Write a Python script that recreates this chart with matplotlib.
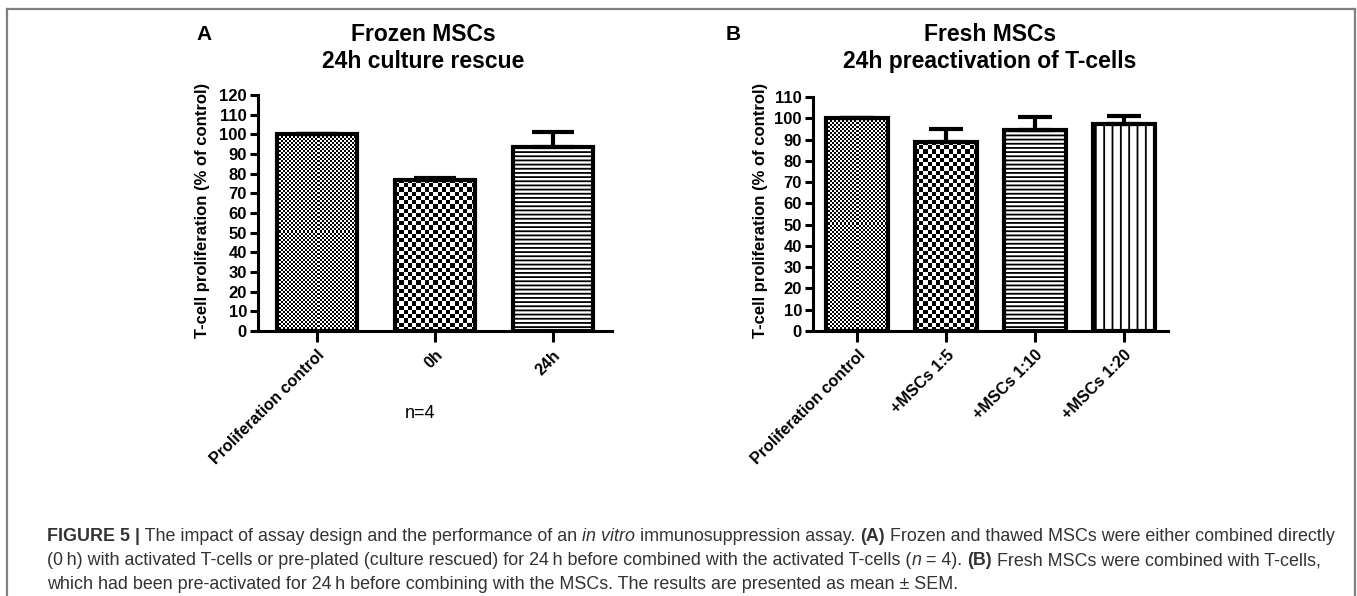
import numpy as np
import matplotlib
matplotlib.use("Agg")
import matplotlib.pyplot as plt

# ---------------- data ----------------
cats_a = ["Proliferation control", "0h", "24h"]
vals_a = [100, 77, 93.5]
sem_a = [0, 1, 7.5]

cats_b = ["Proliferation control", "+MSCs 1:5", "+MSCs 1:10", "+MSCs 1:20"]
vals_b = [100, 89, 94.5, 97.5]
sem_b = [0, 6, 6, 3.5]

yticks_a = list(range(0, 121, 10))
yticks_b = list(range(0, 111, 10))

title_a = "Frozen MSCs\n24h culture rescue"
title_b = "Fresh MSCs\n24h preactivation of T-cells"
ylabel = "T-cell proliferation (% of control)"
patterns_a = ["fine", "checker", "hlines"]
patterns_b = ["fine", "checker", "hlines", "vlines"]

W, H = 1357, 596
DPI = 100
plt.rcParams["font.family"] = ["Liberation Sans", "DejaVu Sans"]
plt.rcParams["hatch.linewidth"] = 1.3

cap_font = "Liberation Sans"

fig = plt.figure(figsize=(W / DPI, H / DPI), dpi=DPI)


def px_axes(l, r, b, t):
    return fig.add_axes([l / W, 1 - b / H, (r - l) / W, (b - t) / H])


def checker(ax, patch, cell):
    x0, w = patch.get_x(), patch.get_width()
    h = patch.get_height()
    p0 = ax.transData.transform((x0, 0))
    p1 = ax.transData.transform((x0 + w, h))
    nx = max(1, int(round(abs(p1[0] - p0[0]) / cell)))
    ny = max(1, int(round(abs(p1[1] - p0[1]) / cell)))
    img = (np.add.outer(np.arange(ny), np.arange(nx)) % 2).astype(float)
    im = ax.imshow(img, cmap="gray", vmin=0, vmax=1, extent=(x0, x0 + w, 0, h),
                   interpolation="nearest", aspect="auto", zorder=2, origin="lower")
    im.set_clip_path(patch)


def panel(ax, cats, vals, sems, pats, yticks, width, capsize):
    x = np.arange(len(cats))
    ax.set_xlim(-0.5, len(cats) - 0.5)
    ax.set_ylim(0, yticks[-1])
    bars = ax.bar(x, vals, width=width, color="white", edgecolor="none", zorder=1)
    for b, p in zip(bars, pats):
        if p == "fine":
            checker(ax, b, 2.0)
        elif p == "checker":
            checker(ax, b, 4.2)
        elif p == "hlines":
            b.set_hatch("----")
            b.set_edgecolor("black")
            b.set_linewidth(0)
        elif p == "vlines":
            b.set_hatch("||")
            b.set_edgecolor("black")
            b.set_linewidth(0)
    ax.bar(x, vals, width=width, fill=False, edgecolor="black", linewidth=3.0, zorder=4)
    ax.errorbar(x, vals, yerr=[np.zeros(len(vals)), sems], fmt="none", ecolor="black",
                elinewidth=3.0, capsize=capsize, capthick=3.0, zorder=3)
    ax.spines["top"].set_visible(False)
    ax.spines["right"].set_visible(False)
    for s in ("left", "bottom"):
        ax.spines[s].set_linewidth(2.2)
        ax.spines[s].set_zorder(5)
    ax.set_yticks(yticks)
    ax.set_yticklabels([str(v) for v in yticks], fontsize=12, fontweight="bold")
    ax.set_xticks(x)
    ax.set_xticklabels(cats, rotation=45, ha="right", va="top", rotation_mode="anchor",
                       fontsize=11.6, fontweight="bold")
    ax.tick_params(axis="both", length=6, width=2.2, pad=2)
    ax.tick_params(axis="x", length=8, pad=4)
    ax.patch.set_alpha(0)


ax_a = px_axes(258, 612, 331, 95)
panel(ax_a, cats_a, vals_a, sem_a, patterns_a, yticks_a, 0.68, 15)
ax_b = px_axes(813, 1168, 331, 97)
panel(ax_b, cats_b, vals_b, sem_b, patterns_b, yticks_b, 0.70, 12)

# titles, labels
fig.text(423 / W, 1 - 48 / H, title_a, ha="center", va="center", fontsize=16.5,
         fontweight="bold", linespacing=1.2)
fig.text(990 / W, 1 - 48 / H, title_b, ha="center", va="center", fontsize=16.5,
         fontweight="bold", linespacing=1.2)
fig.text(204 / W, 1 - 34 / H, "A", ha="center", va="center", fontsize=15, fontweight="bold")
fig.text(733 / W, 1 - 34 / H, "B", ha="center", va="center", fontsize=15, fontweight="bold")
fig.text(203 / W, 1 - 210 / H, ylabel, rotation=90, ha="center", va="center",
         fontsize=12, fontweight="bold")
fig.text(760 / W, 1 - 210 / H, ylabel, rotation=90, ha="center", va="center",
         fontsize=12, fontweight="bold")
fig.text(420 / W, 1 - 413 / H, "n=4", ha="center", va="center", fontsize=13)

# frame
frame_kw = dict(color="#808080", linewidth=1.6, transform=fig.transFigure)
fig.add_artist(plt.Line2D([7 / W, 1355 / W], [1 - 9 / H, 1 - 9 / H], **frame_kw))
fig.add_artist(plt.Line2D([7 / W, 7 / W], [0, 1 - 9 / H], **frame_kw))
fig.add_artist(plt.Line2D([1355 / W, 1355 / W], [0, 1 - 9 / H], **frame_kw))

# caption with mixed styles
caption_lines = [
    [("FIGURE 5 |", "bold", "normal"),
     (" The impact of assay design and the performance of an ", "normal", "normal"),
     ("in vitro", "normal", "italic"),
     (" immunosuppression assay. ", "normal", "normal"),
     ("(A)", "bold", "normal"),
     (" Frozen and thawed MSCs were either combined directly", "normal", "normal")],
    [("(0\u2009h) with activated T-cells or pre-plated (culture rescued) for 24\u2009h before combined with the activated T-cells (", "normal", "normal"),
     ("n", "normal", "italic"),
     (" = 4). ", "normal", "normal"),
     ("(B)", "bold", "normal"),
     (" Fresh MSCs were combined with T-cells,", "normal", "normal")],
    [("which had been pre-activated for 24\u2009h before combining with the MSCs. The results are presented as mean \u00b1 SEM.", "normal", "normal")],
]
cap_y = [541, 565, 589]
fig.canvas.draw()
renderer = fig.canvas.get_renderer()
for segs, yy in zip(caption_lines, cap_y):
    xpx = 47
    for txt, wt, st in segs:
        t = fig.text(xpx / W, 1 - yy / H, txt, ha="left", va="baseline", fontsize=12.9,
                     fontweight=wt, fontstyle=st, color="#333333",
                     family=[cap_font, "DejaVu Sans"])
        bb = t.get_window_extent(renderer)
        xpx += bb.width

fig.savefig("out.png", dpi=DPI)
